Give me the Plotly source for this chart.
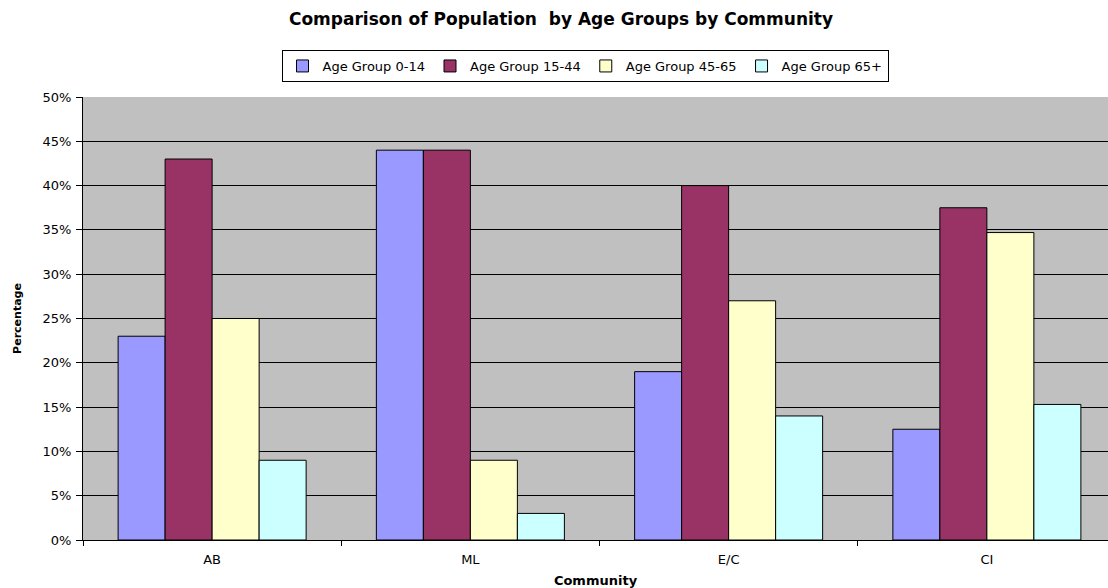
import plotly.graph_objects as go

communities = ["AB", "ML", "E/C", "CI"]
series_names = ["Age Group 0-14", "Age Group 15-44", "Age Group 45-65", "Age Group 65+"]
age_0_14 = [0.23, 0.44, 0.19, 0.125]
age_15_44 = [0.43, 0.44, 0.40, 0.375]
age_45_65 = [0.25, 0.09, 0.27, 0.347]
age_65_plus = [0.09, 0.03, 0.14, 0.153]
colors = ["#9999FF", "#993366", "#FFFFCC", "#CCFFFF"]
y_ticks = [0, 0.05, 0.10, 0.15, 0.20, 0.25, 0.30, 0.35, 0.40, 0.45, 0.50]

font = "DejaVu Sans, Arial, sans-serif"

fig = go.Figure()
for name, vals, col in zip(series_names, [age_0_14, age_15_44, age_45_65, age_65_plus], colors):
    fig.add_trace(go.Bar(
        x=communities, y=vals, name=name,
        marker=dict(color=col, line=dict(color="black", width=1)),
    ))

fig.update_layout(
    width=1108, height=588,
    barmode="group", bargap=0.272, bargroupgap=0,
    paper_bgcolor="white", plot_bgcolor="#C0C0C0",
    margin=dict(l=83, r=0, t=97, b=48),
    font=dict(family=font, size=12, color="black"),
    title=dict(
        text="<b>Comparison of Population\u00a0 by Age Groups by Community</b>",
        x=561/1108, xanchor="center", xref="container",
        y=1-19/588, yanchor="middle", yref="container",
        font=dict(family=font, size=17, color="black"),
    ),
    legend=dict(
        orientation="h", x=585/1108, xanchor="center", xref="container",
        y=1-50/588, yanchor="top", yref="container",
        bordercolor="black", borderwidth=1, bgcolor="white",
        font=dict(family=font, size=13, color="black"),
        itemwidth=30, tracegroupgap=0,
    ),
    showlegend=True,
)
fig.update_xaxes(
    type="category", range=[-0.5, 3.5 - 8/258.3],
    tickson="boundaries", ticks="outside", ticklen=5, tickcolor="black",
    showline=True, linecolor="black", linewidth=1,
    showgrid=False, automargin=False,
    ticklabelstandoff=7,
    title=dict(text="<b>Community</b>", font=dict(family=font, size=13), standoff=10),
    tickfont=dict(family=font, size=13),
)
fig.update_yaxes(
    range=[0, 0.5], tickvals=y_ticks, tickformat=".0%",
    ticks="outside", ticklen=6, tickcolor="black",
    showline=True, linecolor="black", linewidth=1,
    showgrid=True, gridcolor="black", gridwidth=1,
    zeroline=False, automargin=False,
    ticklabelstandoff=2,
    title=dict(text="<b>Percentage</b>", font=dict(family=font, size=11), standoff=18),
    tickfont=dict(family=font, size=13),
)

fig.write_html("out.html")
